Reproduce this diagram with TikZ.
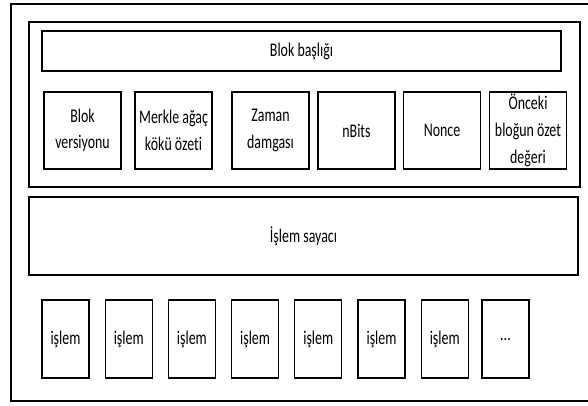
\documentclass[tikz,border=0pt]{standalone}
\usepackage{fontspec}
\setmainfont[FakeStretch=0.72,Ligatures=NoCommon]{Carlito}
\usepackage{tikz}
\usetikzlibrary{positioning}
\tikzset{
  cerceve/.style={rectangle,draw=black,line width=1.3pt,inner sep=0pt},
  baslik/.style={rectangle,draw=black,line width=1.2pt,inner sep=0pt,
    minimum width=389.25pt,minimum height=30pt},
  alan/.style={rectangle,draw=black,line width=1.1pt,inner sep=0pt,align=center,
    minimum width=57.75pt,minimum height=57.75pt},
  islem/.style={rectangle,draw=black,line width=1pt,inner sep=0pt,
    minimum width=35.25pt,minimum height=58.5pt}
}

\begin{document}
\begin{tikzpicture}[x=0.75pt,y=-0.75pt,font=\fontsize{14.5}{20}\selectfont]
\clip (0,0) rectangle (588,405);
\fill[white] (0,0) rectangle (588,405);
% dis cerceve
\node[cerceve,minimum width=438pt,minimum height=297.75pt] (blok) at (303,202.5) {};
% blok basligi grubu
\node[cerceve,minimum width=413.25pt,minimum height=123.75pt] (grup) at (304.5,104.5) {};
\node[baslik] (bbaslik) at (301.5,51) {Blok başlığı};
\node[alan] (versiyon) at (82.5,130.5) {Blok\\versiyonu};
\node[alan] (merkle) at (173.5,130.5) {Merkle ağaç\\kökü özeti};
\node[alan] (zaman) at (270.5,130.5) {Zaman\\damgası};
\node[alan] (nbits) at (356.5,130.5) {nBits};
\node[alan] (nonce) at (442,130.5) {Nonce};
\node[alan] (onceki) at (528,130.5) {Önceki\\bloğun özet\\değeri};
% islem sayaci
\node[baslik,minimum width=411.75pt,minimum height=58.5pt] (sayac) at (303.5,236) {İşlem sayacı};
% islemler
\foreach \i [count=\n] in {0,...,6}
  \node[islem] (islem\n) at (65.5+63.2*\i,339) {işlem};
\node[islem] (islem8) at (505.5,339) {...};
\end{tikzpicture}
\end{document}
